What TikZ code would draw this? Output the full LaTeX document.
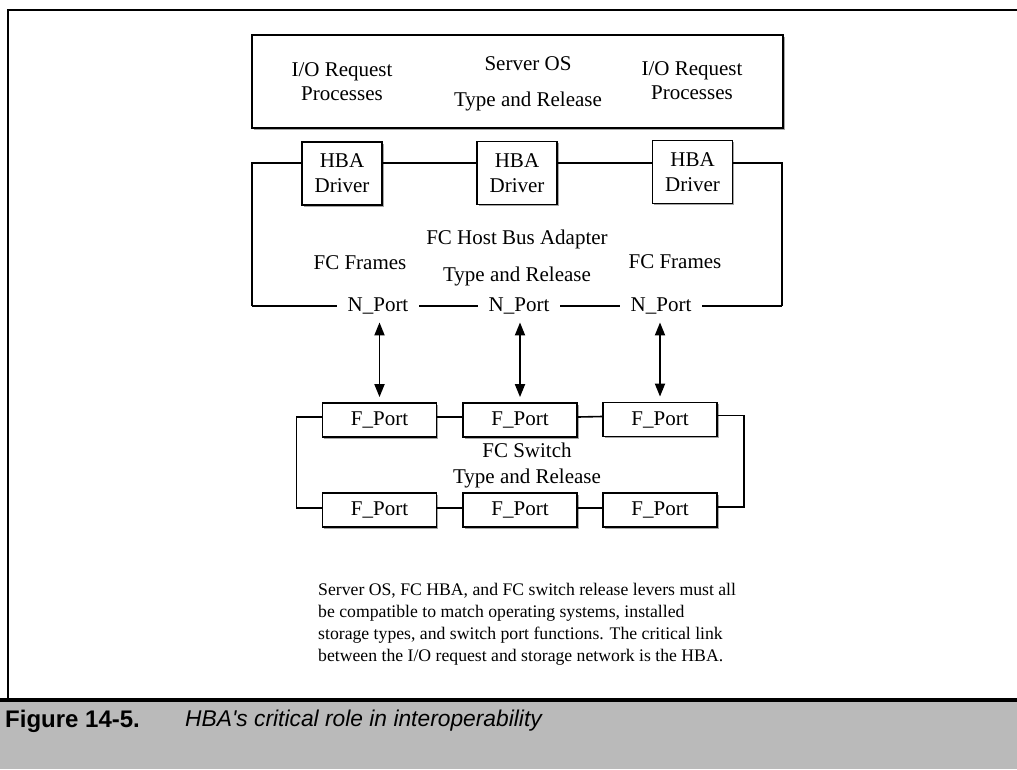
\documentclass[tikz,border=0pt]{standalone}
\usepackage{fontspec}
\setmainfont{Liberation Serif}
\newfontfamily\capfont{Liberation Sans}
\usetikzlibrary{arrows.meta,shadows}
\begin{document}
\begin{tikzpicture}[x=1pt,y=-1pt,
  every node/.style={font=\fontsize{21}{24}\selectfont, inner sep=0pt},
  box/.style={draw, line width=1.8pt, fill=white,
    drop shadow={shadow xshift=1.5pt, shadow yshift=-1.5pt, fill=black!35, opacity=1}},
  wire/.style={line width=1.6pt},
  busline/.style={line width=2.6pt},
  txt/.style={align=center},
  portlbl/.style={inner xsep=10.5pt},
  dbl/.style={line width=1.8pt,
    {Triangle[width=10pt,length=13pt]}-{Triangle[width=10pt,length=13pt]}},
]
% page
\fill[white] (0,0) rectangle (1017,769);
\useasboundingbox (0,0) rectangle (1017,769);

% outer frame and caption band
\fill[black!27] (0,701) rectangle (1017,769);
\draw[line width=2pt] (8,700) -- (8,10) -- (1017,10);
\draw[line width=4.5pt] (0,700) -- (1017,700);
\node[anchor=west, font={\capfont\bfseries\fontsize{24}{27}\selectfont}] (figno) at (5,721) {Figure 14-5.};
\node[anchor=west, font={\capfont\itshape\fontsize{22.8}{26}\selectfont}] (figcap) at (185,721) {HBA's critical role in interoperability};

% server OS layer
\node[box, minimum width=531pt, minimum height=93pt] (os) at (517.5,81.5) {};
\node[txt] (io1) at (342,82) {I/O Request\\Processes};
\node[txt, font=\fontsize{21}{36}\selectfont] (srv) at (528,84) {Server OS\\Type and Release};
\node[txt] (io2) at (692,80.5) {I/O Request\\Processes};

% HBA drivers
\node[box, txt, minimum width=80pt, minimum height=63pt, font=\fontsize{21}{25}\selectfont] (hba1) at (342,173.5) {HBA\\Driver};
\node[box, txt, minimum width=80pt, minimum height=63pt, font=\fontsize{21}{25}\selectfont] (hba2) at (517,173) {HBA\\Driver};
\node[box, txt, minimum width=80pt, minimum height=63pt, font=\fontsize{21}{25}\selectfont] (hba3) at (692.5,172) {HBA\\Driver};

% host bus adapter loop
\coordinate (tl) at (252,163);
\coordinate (tr) at (782,163);
\coordinate (bl) at (252,306);
\coordinate (br) at (782,306);
\node[portlbl] (np1) at (378,306) {N\_Port};
\node[portlbl] (np2) at (519,306) {N\_Port};
\node[portlbl] (np3) at (661,306) {N\_Port};

\draw[wire] (bl) -- (tl) -- (hba1.west |- tl);
\draw[wire] (hba1.east |- tl) -- (hba2.west |- tl);
\draw[wire] (hba2.east |- tl) -- (hba3.west |- tl);
\draw[wire] (hba3.east |- tl) -- (tr) -- (br);
\draw[busline] (bl) -- (np1.west);
\draw[busline] (np1.east) -- (np2.west);
\draw[busline] (np2.east) -- (np3.west);
\draw[busline] (np3.east) -- (br);

\node (ff1) at (360,263) {FC Frames};
\node[txt, font=\fontsize{21}{37}\selectfont] (hbatype) at (517,257.5) {FC Host Bus Adapter\\Type and Release};
\node (ff2) at (675,262) {FC Frames};

% switch ports
\node[box, minimum width=114pt, minimum height=34pt] (fp1) at (379.5,420) {F\_Port};
\node[box, minimum width=114pt, minimum height=34pt] (fp2) at (520,420) {F\_Port};
\node[box, minimum width=114pt, minimum height=34pt] (fp3) at (660,419.5) {F\_Port};
\node[box, minimum width=114pt, minimum height=34pt] (fp4) at (379.5,510) {F\_Port};
\node[box, minimum width=114pt, minimum height=34pt] (fp5) at (520,510) {F\_Port};
\node[box, minimum width=114pt, minimum height=34pt] (fp6) at (660,510) {F\_Port};
\node[txt, font=\fontsize{21}{26}\selectfont] (sw) at (527,465) {FC Switch\\Type and Release};

\draw[wire] ([yshift=3pt]fp1.east) -- ([yshift=3pt]fp2.west);
\draw[wire] ([yshift=3pt]fp2.east) -- ([yshift=3pt]fp3.west);
\draw[wire] ([yshift=2pt]fp4.east) -- ([yshift=2pt]fp5.west);
\draw[wire] ([yshift=2pt]fp5.east) -- ([yshift=2pt]fp6.west);
\draw[wire] ([yshift=3pt]fp1.west) -- ++(-25,0) |- ([yshift=2pt]fp4.west);
\draw[wire] ([yshift=4pt]fp3.east) -- ++(26,0) |- ([yshift=3pt]fp6.east);

% N_Port to F_Port links
\draw[dbl, shorten <=8pt, shorten >=5pt] (fp1.north |- np1.south) -- (fp1.north);
\draw[dbl, shorten <=8pt, shorten >=5pt] (fp2.north |- np2.south) -- (fp2.north);
\draw[dbl, shorten <=8pt, shorten >=5pt] (fp3.north |- np3.south) -- (fp3.north);

% explanatory note
\node[anchor=north west, align=left, font=\fontsize{17.7}{21.8}\selectfont] (note) at (318,583.5)
  {Server OS, FC HBA, and FC switch release levers must all\\
   be compatible to match operating systems, installed\\
   storage types, and switch port functions. The critical link\\
   between the I/O request and storage network is the HBA.};
\end{tikzpicture}
\end{document}
